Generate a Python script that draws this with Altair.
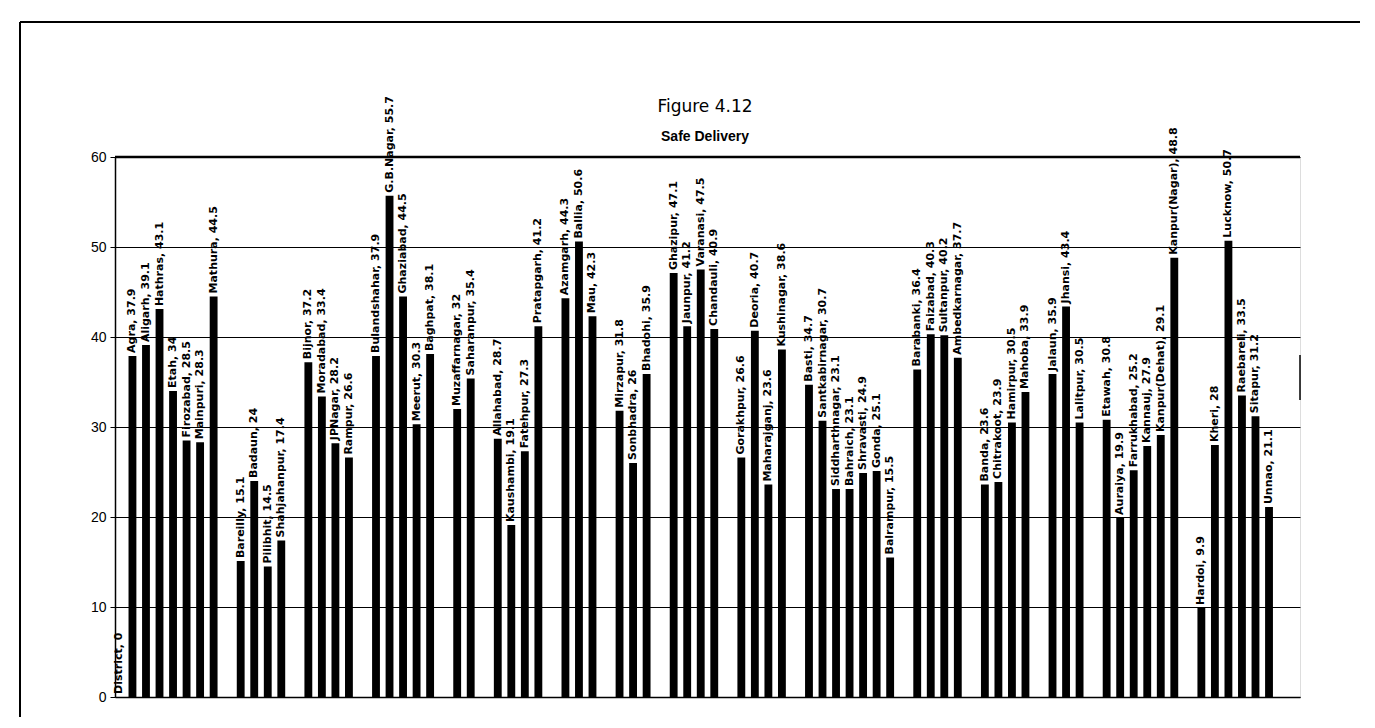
import altair as alt
import pandas as pd

# District names in plotting order; "" marks an empty slot between divisions
districts = ["District", "Agra", "Aligarh", "Hathras", "Etah", "Firozabad", "Mainpuri", "Mathura", "",
             "Bareilly", "Badaun", "Pilibhit", "Shahjahanpur", "",
             "Bijnor", "Moradabad", "JPNagar", "Rampur", "",
             "Bulandshahar", "G.B.Nagar", "Ghaziabad", "Meerut", "Baghpat", "",
             "Muzaffarnagar", "Saharanpur", "",
             "Allahabad", "Kaushambi", "Fatehpur", "Pratapgarh", "",
             "Azamgarh", "Ballia", "Mau", "",
             "Mirzapur", "Sonbhadra", "Bhadohi", "",
             "Ghazipur", "Jaunpur", "Varanasi", "Chandauli", "",
             "Gorakhpur", "Deoria", "Maharajganj", "Kushinagar", "",
             "Basti", "Santkabirnagar", "Siddharthnagar", "Bahraich", "Shravasti", "Gonda", "Balrampur", "",
             "Barabanki", "Faizabad", "Sultanpur", "Ambedkarnagar", "",
             "Banda", "Chitrakoot", "Hamirpur", "Mahoba", "",
             "Jalaun", "Jhansi", "Lalitpur", "",
             "Etawah", "Auraiya", "Farrukhabad", "Kannauj", "Kanpur(Dehat)", "Kanpur(Nagar)", "",
             "Hardoi", "Kheri", "Lucknow", "Raebareli", "Sitapur", "Unnao", "", ""]

values = [0, 37.9, 39.1, 43.1, 34.0, 28.5, 28.3, 44.5, None,
          15.1, 24.0, 14.5, 17.4, None,
          37.2, 33.4, 28.2, 26.6, None,
          37.9, 55.7, 44.5, 30.3, 38.1, None,
          32.0, 35.4, None,
          28.7, 19.1, 27.3, 41.2, None,
          44.3, 50.6, 42.3, None,
          31.8, 26.0, 35.9, None,
          47.1, 41.2, 47.5, 40.9, None,
          26.6, 40.7, 23.6, 38.6, None,
          34.7, 30.7, 23.1, 23.1, 24.9, 25.1, 15.5, None,
          36.4, 40.3, 40.2, 37.7, None,
          23.6, 23.9, 30.5, 33.9, None,
          35.9, 43.4, 30.5, None,
          30.8, 19.9, 25.2, 27.9, 29.1, 48.8, None,
          9.9, 28.0, 50.7, 33.5, 31.2, 21.1, None, None]

y_ticks = [0, 10, 20, 30, 40, 50, 60]
figure_title = "Figure 4.12"
chart_title = "Safe Delivery"

slots = [f"s{i:02d}" for i in range(len(districts))]
rows = []
for s, d, v in zip(slots, districts, values):
    if v is None:
        continue
    vs = f"{v:.1f}" if v != int(v) else f"{int(v)}"
    rows.append({"slot": s, "name": d, "value": v, "label": f"{d}, {vs}"})
df = pd.DataFrame(rows)

W, H = 1185, 540

xscale = alt.Scale(domain=slots, paddingInner=0.42, paddingOuter=0.0)
yscale = alt.Scale(domain=[0, 60], nice=False)

base = alt.Chart(df)

bars = base.mark_bar(color="black").encode(
    x=alt.X("slot:N", scale=xscale, sort=slots,
            axis=alt.Axis(labels=False, ticks=False, title=None, domainColor="black", domainWidth=1.5)),
    y=alt.Y("value:Q", scale=yscale,
            axis=alt.Axis(values=y_ticks, grid=True, gridColor="black", gridWidth=1.2,
                          domainColor="black", domainWidth=1.5, tickColor="black", tickSize=5,
                          labelFontSize=14, labelFont="Liberation Sans", labelColor="black",
                          labelPadding=4, title=None)),
)

labels = base.mark_text(angle=270, align="left", baseline="middle", dx=3, fontSize=11,
                        font="DejaVu Sans", fontWeight="bold", color="black").encode(
    x=alt.X("slot:N", scale=xscale, sort=slots),
    y=alt.Y("value:Q", scale=yscale),
    text="label:N",
)

frame_df = pd.DataFrame({"k": [0]})
fb = alt.Chart(frame_df)
top60 = fb.mark_rule(color="black", strokeWidth=2.5).encode(x=alt.value(0), x2=alt.value(W), y=alt.value(0))
f_top = fb.mark_rule(color="black", strokeWidth=2).encode(x=alt.value(-95), x2=alt.value(1248), y=alt.value(-135))
f_left = fb.mark_rule(color="black", strokeWidth=2).encode(x=alt.value(-95), y=alt.value(-135), y2=alt.value(600))
f_right = fb.mark_rule(color="black", strokeWidth=2).encode(x=alt.value(1248), y=alt.value(-135), y2=alt.value(600))
r_stub = fb.mark_rule(color="black", strokeWidth=1.5).encode(x=alt.value(W), y=alt.value(198), y2=alt.value(243))

t1 = fb.mark_text(fontSize=17, font="DejaVu Sans", color="black", baseline="middle", align="center").encode(
    x=alt.value(590), y=alt.value(-50), text=alt.value(figure_title))
t2 = fb.mark_text(fontSize=14, font="Liberation Sans", fontWeight="bold", color="black",
                  baseline="middle", align="center").encode(
    x=alt.value(590), y=alt.value(-20), text=alt.value(chart_title))

chart = alt.layer(f_top, f_left, f_right, t1, t2, bars, top60, r_stub, labels).properties(
    width=W, height=H,
    autosize=alt.AutoSizeParams(type="none"),
    padding={"left": 107, "top": 149, "right": 60, "bottom": 20},
).configure_view(stroke=None).configure(background="white")

chart.save("out.html", embed_options={"renderer": "svg", "actions": False})
